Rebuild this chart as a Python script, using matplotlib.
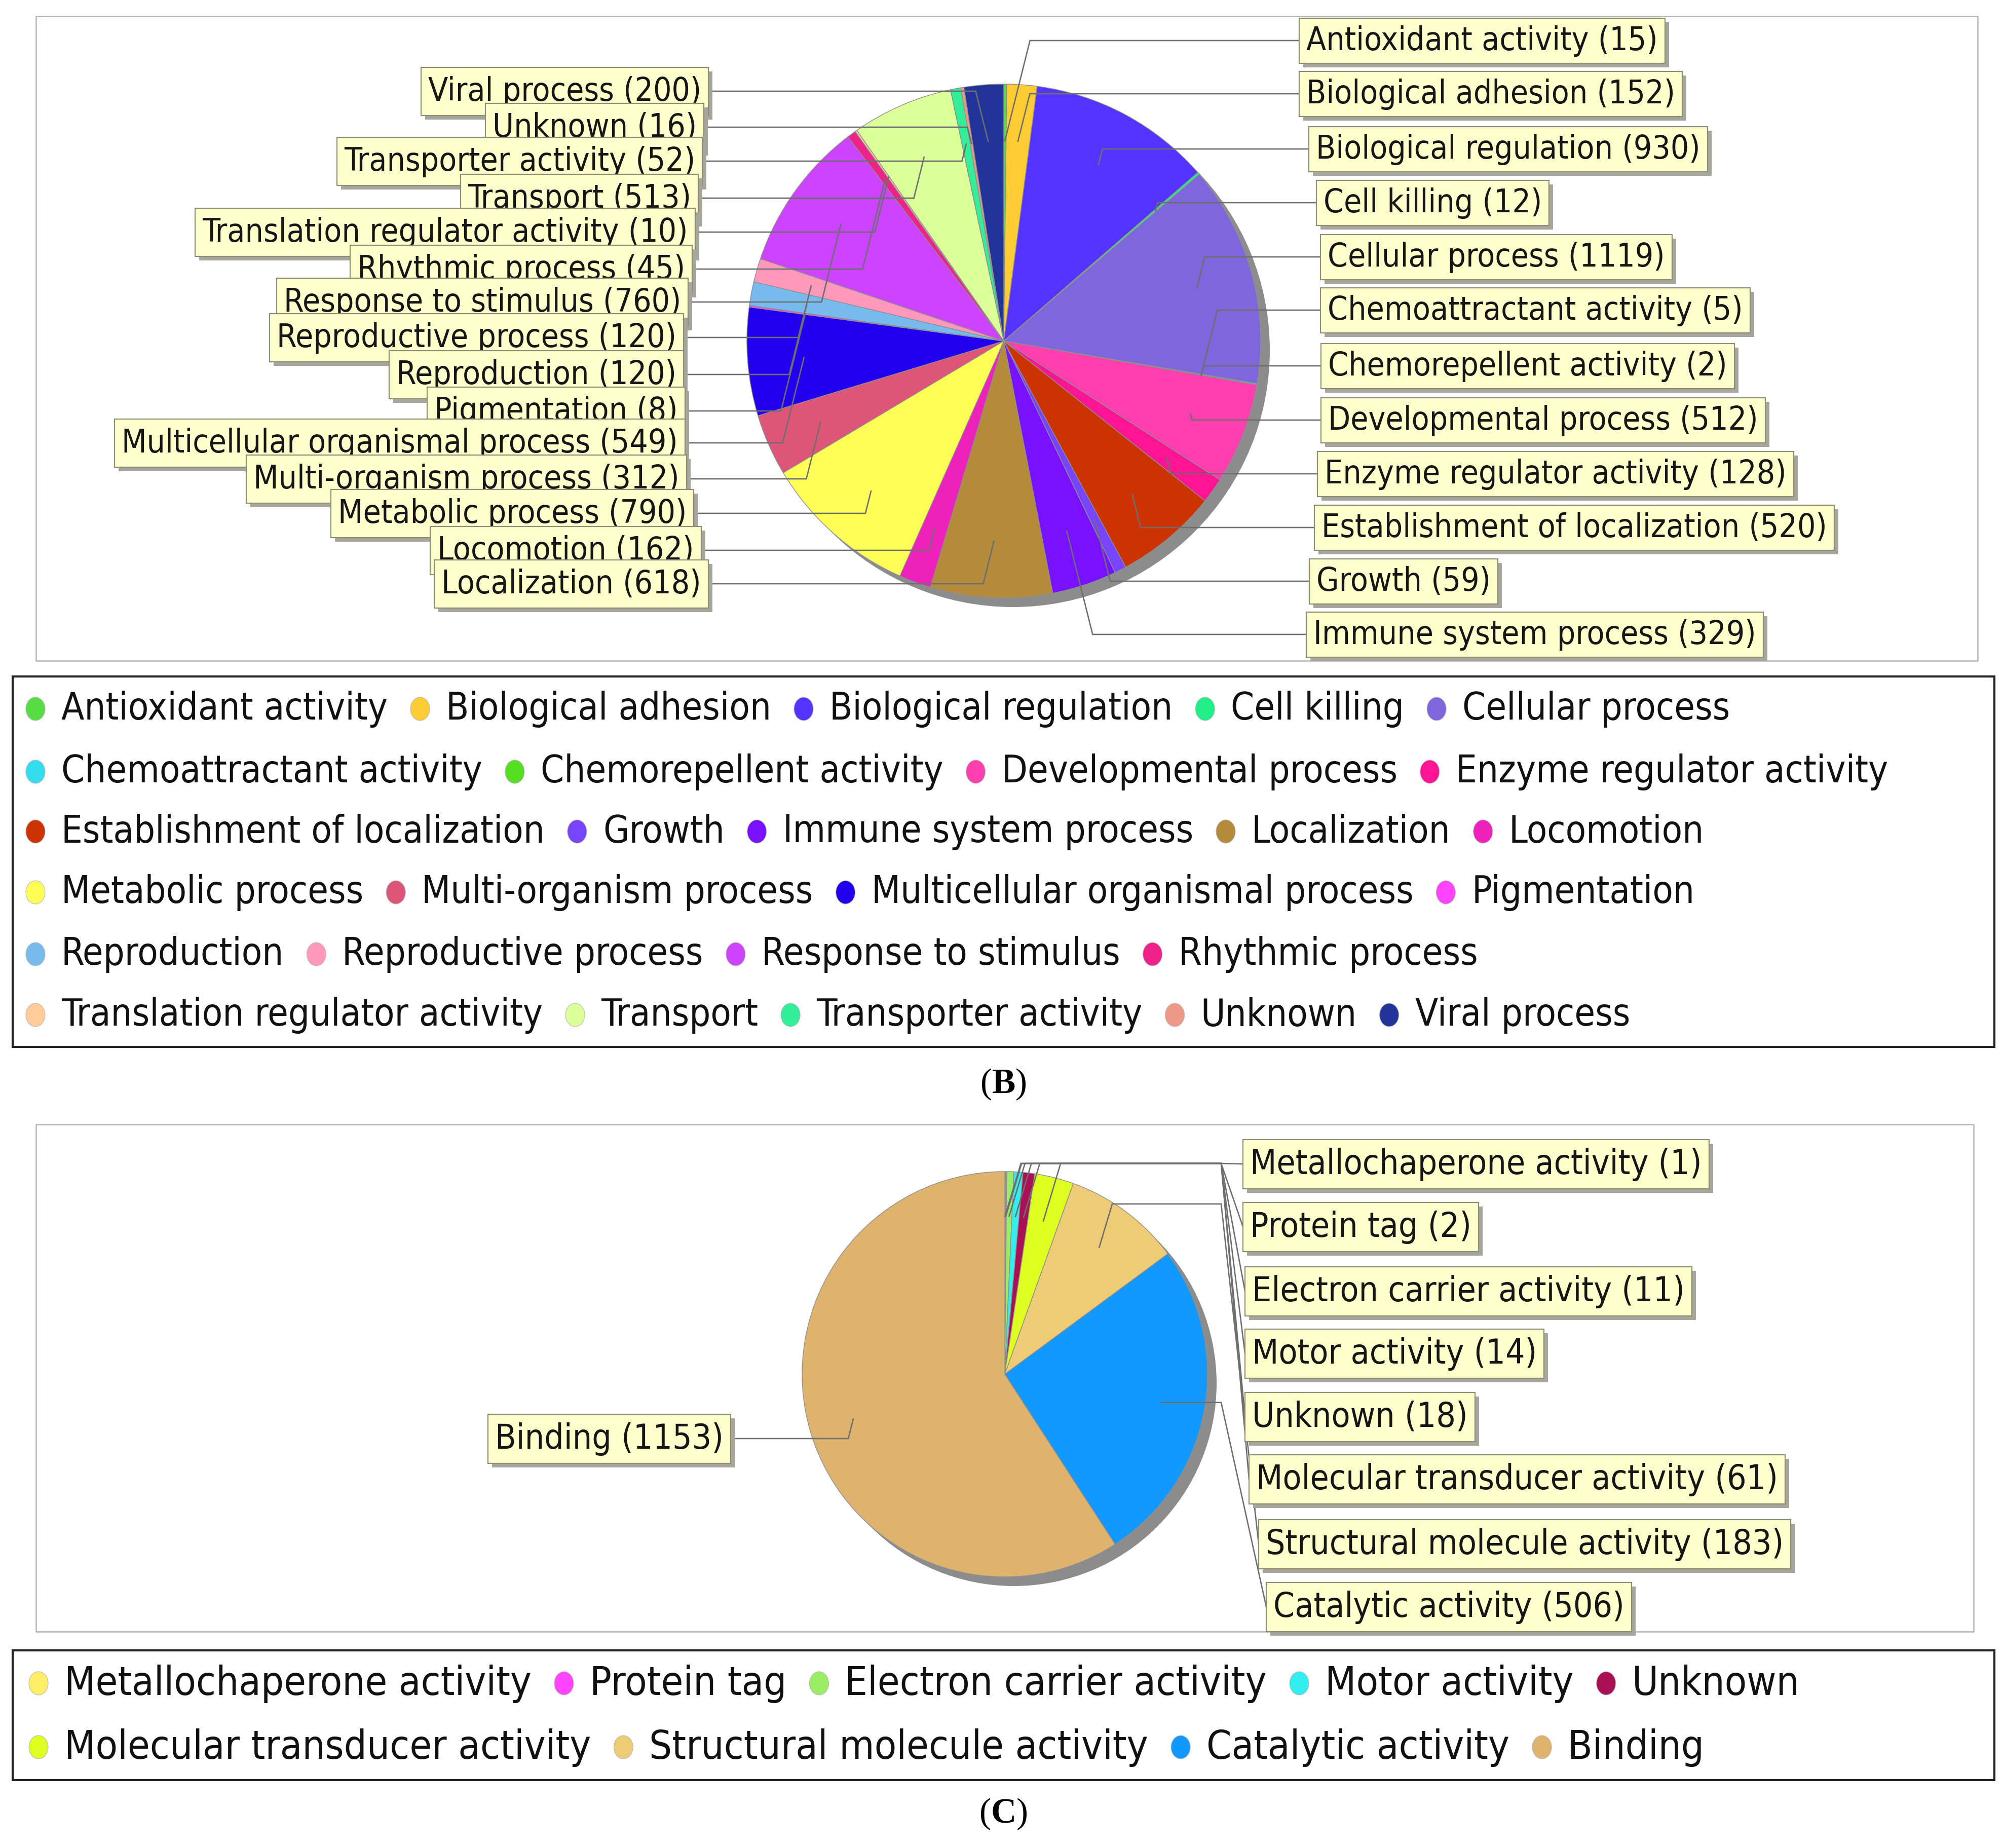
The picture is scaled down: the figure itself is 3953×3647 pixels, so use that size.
import os
import numpy as np
import matplotlib
matplotlib.use("Agg")
import matplotlib.pyplot as plt
from matplotlib.patches import Rectangle, Ellipse, Circle
from matplotlib import font_manager
from matplotlib.font_manager import FontProperties

W, H = 3953, 3648

# ---------------- data ----------------
b_categories = ["Antioxidant activity", "Biological adhesion", "Biological regulation", "Cell killing",
                "Cellular process", "Chemoattractant activity", "Chemorepellent activity",
                "Developmental process", "Enzyme regulator activity", "Establishment of localization",
                "Growth", "Immune system process", "Localization", "Locomotion", "Metabolic process",
                "Multi-organism process", "Multicellular organismal process", "Pigmentation",
                "Reproduction", "Reproductive process", "Response to stimulus", "Rhythmic process",
                "Translation regulator activity", "Transport", "Transporter activity", "Unknown",
                "Viral process"]
b_counts = [15, 152, 930, 12, 1119, 5, 2, 512, 128, 520, 59, 329, 618, 162, 790, 312, 549, 8,
            120, 120, 760, 45, 10, 513, 52, 16, 200]
b_colors = ["#55dd44", "#ffcc33", "#5533ff", "#22ee88", "#7f66dd", "#33ddee", "#55dd22",
            "#ff3fb0", "#ff1493", "#cc3300", "#7744ff", "#7711ff", "#b38b3a", "#ee22bb",
            "#ffff55", "#dd5577", "#2200ee", "#ff44ff", "#77bbee", "#ff99bb", "#cc44ff",
            "#ee2288", "#ffcc99", "#ddff99", "#33ee99", "#ee9988", "#223399"]
b_legend_rows = [5, 4, 5, 4, 4, 5]

c_categories = ["Metallochaperone activity", "Protein tag", "Electron carrier activity",
                "Motor activity", "Unknown", "Molecular transducer activity",
                "Structural molecule activity", "Catalytic activity", "Binding"]
c_counts = [1, 2, 11, 14, 18, 61, 183, 506, 1153]
c_colors = ["#ffee66", "#ff44ff", "#99ee66", "#33eeee", "#aa1155", "#ddff22", "#eecc77",
            "#1199ff", "#ddb36e"]
c_legend_rows = [5, 4]

# ---------------- layout (pixel coords, y from top) ----------------
b_center, b_radius = (1981, 674), 507
c_center, c_radius = (1983, 2713), 400
b_right_x = [2564, 2564, 2583, 2598, 2606, 2606, 2607, 2607, 2600, 2594, 2584, 2578]
b_right_y = [81, 186, 295, 401, 508, 613, 723, 830, 936, 1042, 1148, 1253]
# left labels listed top to bottom (Viral ... Localization)
b_left_xr = [1398, 1389, 1386, 1378, 1372, 1366, 1358, 1349, 1349, 1352, 1352, 1355, 1369, 1384, 1398]
b_left_y = [181, 252, 319, 392, 459, 532, 597, 667, 740, 812, 875, 946, 1014, 1087, 1153]
c_right_x = [2453, 2453, 2457, 2457, 2457, 2465, 2484, 2499]
c_right_y = [2298, 2422, 2549, 2672, 2797, 2920, 3048, 3172]
c_route_y = [2297, 2297, 2297, 2297, 2297, 2297, 2377, None]
c_route_x = 2410
c_left_xr, c_left_y = 1442, 2840

# ---------------- fonts ----------------
def pick_font():
    files = [f.fname for f in font_manager.fontManager.ttflist]
    bad = ("Bold", "Italic", "Oblique", "Light", "Thin", "Black", "Semi", "Extra", "Medium", "Mono",
           "Serif", "Ultra", "Heavy")
    cands = []
    for q in files:
        b = os.path.basename(q)
        if ("Condensed" in b or "Narrow" in b) and not any(t in b for t in bad):
            cands.append(q)
    for key in ("DejaVuSans", "LiberationSans", "NotoSans", "Roboto", "OpenSans", "Lato", "Inter"):
        for q in cands:
            if os.path.basename(q).startswith(key):
                return q
    return None

FPATH = pick_font()

def fprop(size):
    if FPATH:
        fp = FontProperties(fname=FPATH)
    else:
        fp = FontProperties(family="DejaVu Sans")
    fp.set_size(size)
    return fp

plt.rcParams["mathtext.fontset"] = "custom"
plt.rcParams["mathtext.bf"] = "Liberation Serif:bold"
plt.rcParams["mathtext.rm"] = "Liberation Serif"

fig = plt.figure(figsize=(W / 100, H / 100), dpi=100)
ax = fig.add_axes([0, 0, 1, 1])
renderer = fig.canvas.get_renderer()


def text_width(s, fp):
    t = ax.text(0, 0, s, fontproperties=fp)
    w = t.get_window_extent(renderer).width
    t.remove()
    return w


def fit(s, target):
    fp = fprop(40)
    return 40 * target / text_width(s, fp)


lab_b_fp = fprop(fit("Antioxidant activity (15)", 693))
lab_c_fp = fprop(fit("Metallochaperone activity (1)", 891))
leg_b_fp = fprop(fit("Antioxidant activity", 644))
leg_c_fp = fprop(fit("Metallochaperone activity", 920))


def Y(y):
    return H - y


def draw_pie(center, radius, counts, colors):
    cx, cy = center[0], Y(center[1])
    ax.add_patch(Circle((cx + 18, cy - 18), radius, fc="#8c8c8c", ec="none", zorder=0.5))
    ax.pie(counts, colors=colors, startangle=90, counterclock=False, radius=radius,
           center=(cx, cy), frame=True,
           wedgeprops=dict(edgecolor="#8f8f8f", linewidth=1.0))
    fr = np.array(counts, float) / np.sum(counts)
    cum = np.concatenate([[0], np.cumsum(fr)[:-1]])
    mids = 90 - 360 * (cum + fr / 2)
    return [(cx + 0.78 * radius * np.cos(np.radians(a)), cy + 0.78 * radius * np.sin(np.radians(a)))
            for a in mids]


def draw_label(s, yc, x_edge, side, fp, h, z, pad=14):
    yd = Y(yc)
    if side == "right":
        t = ax.text(x_edge + pad, yd, s, fontproperties=fp, ha="left", va="center",
                    color="#161616", zorder=z + 2)
    else:
        t = ax.text(x_edge - pad, yd, s, fontproperties=fp, ha="right", va="center",
                    color="#161616", zorder=z + 2)
    w = t.get_window_extent(renderer).width
    bw = w + 2 * pad
    x0 = x_edge if side == "right" else x_edge - bw
    ax.add_patch(Rectangle((x0 + 8, yd - h / 2 - 8), bw, h, fc="#a6a69c", ec="none", zorder=z))
    ax.add_patch(Rectangle((x0, yd - h / 2), bw, h, fc="#ffffcc", ec="#8d8d78", lw=1.6, zorder=z + 1))


def leader(anchor, yc, x_edge, side):
    ax_, ay = anchor
    yd = Y(yc)
    sgn = 1 if side == "right" else -1
    x1 = ax_ + sgn * min(0.25 * abs(yd - ay), 140)
    x2 = x_edge - sgn * 30
    if sgn * (x2 - x1) < 0:
        x1 = x2
    ax.plot([ax_, x1, x2, x_edge], [ay, yd, yd, yd], color="#6e6e6e", lw=1.9, zorder=6,
            solid_joinstyle="miter")


def leader_col(anchor, y_h, x_col, yc, x_edge):
    ax_, ay = anchor
    yh = ay if y_h is None else Y(y_h)
    x1 = ax_ + 0.3 * abs(yh - ay)
    ax.plot([ax_, x1, x_col, x_edge], [ay, yh, yh, Y(yc)], color="#6e6e6e", lw=1.9, zorder=6,
            solid_joinstyle="miter")


def draw_legend(rows, cats, colors, x0, row_ys, fp, gap_in=51, gap_out=64):
    idx = 0
    for r, n in enumerate(rows):
        x = x0
        yd = Y(row_ys[r])
        for _ in range(n):
            ax.add_patch(Ellipse((x, yd), 38, 46, fc=colors[idx], ec="#bbbbbb", lw=0.8, zorder=5))
            t = ax.text(x + gap_in, yd, cats[idx], fontproperties=fp, ha="left", va="center",
                        color="#111111", zorder=5)
            x = x + gap_in + t.get_window_extent(renderer).width + gap_out
            idx += 1


# ---------------- panel frames ----------------
ax.add_patch(Rectangle((71, Y(1305)), 3903 - 71, 1305 - 33, fc="white", ec="#b4b4b4", lw=1.8, zorder=0))
ax.add_patch(Rectangle((71, Y(3221)), 3895 - 71, 3221 - 2220, fc="white", ec="#b4b4b4", lw=1.8, zorder=0))
ax.add_patch(Rectangle((25, Y(2067)), 3936 - 25, 2067 - 1336, fc="none", ec="#222222", lw=3.0, zorder=4))
ax.add_patch(Rectangle((25, Y(3514)), 3936 - 25, 3514 - 3258, fc="none", ec="#222222", lw=3.0, zorder=4))

# ---------------- panel B ----------------
b_anchors = draw_pie(b_center, b_radius, b_counts, b_colors)
n_right = 12
for i in range(n_right):
    leader(b_anchors[i], b_right_y[i], b_right_x[i], "right")
    draw_label(f"{b_categories[i]} ({b_counts[i]})", b_right_y[i], b_right_x[i], "right",
               lab_b_fp, 89, 10)
left_idx = list(range(len(b_categories) - 1, n_right - 1, -1))
for k, i in enumerate(left_idx):
    leader(b_anchors[i], b_left_y[k], b_left_xr[k], "left")
for k, i in enumerate(left_idx):
    draw_label(f"{b_categories[i]} ({b_counts[i]})", b_left_y[k], b_left_xr[k], "left",
               lab_b_fp, 95, 20 + 3 * k)

draw_legend(b_legend_rows, b_categories, b_colors, 70, [1400, 1524, 1642, 1762, 1884, 2004], leg_b_fp)
ax.text(1980, Y(2140), r"($\mathbf{B}$)", family="Liberation Serif", fontsize=50,
        ha="center", va="center", color="black")

# ---------------- panel C ----------------
c_anchors = draw_pie(c_center, c_radius, c_counts, c_colors)
for i in range(8):
    leader_col(c_anchors[i], c_route_y[i], c_route_x, c_right_y[i], c_right_x[i])
    draw_label(f"{c_categories[i]} ({c_counts[i]})", c_right_y[i], c_right_x[i], "right",
               lab_c_fp, 97, 10)
leader(c_anchors[8], c_left_y, c_left_xr, "left")
draw_label(f"{c_categories[8]} ({c_counts[8]})", c_left_y, c_left_xr, "left", lab_c_fp, 97, 10)

draw_legend(c_legend_rows, c_categories, c_colors, 76, [3323, 3449], leg_c_fp)
ax.text(1980, Y(3580), r"($\mathbf{C}$)", family="Liberation Serif", fontsize=50,
        ha="center", va="center", color="black")

ax.set_xlim(0, W)
ax.set_ylim(0, H)
ax.set_aspect("auto")
ax.axis("off")
fig.savefig("out.png", dpi=100, facecolor="white")
